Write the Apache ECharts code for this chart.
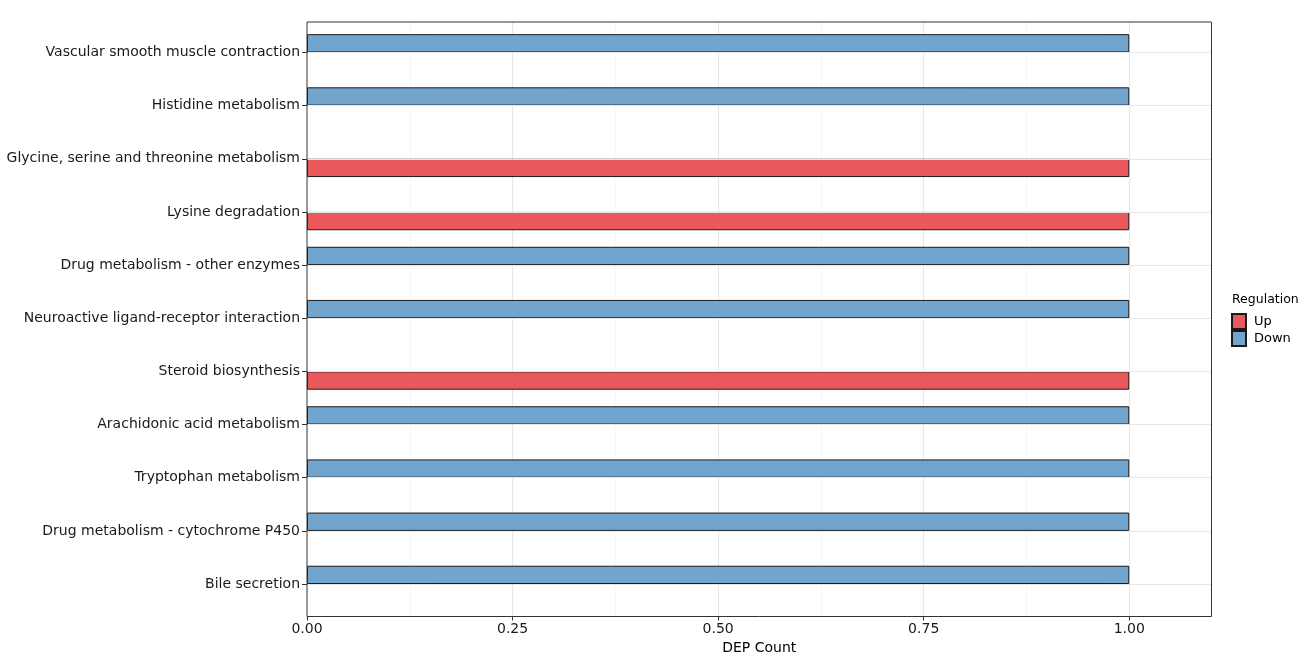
<!DOCTYPE html>
<html>
<head>
<meta charset="utf-8">
<script src="https://cdn.jsdelivr.net/npm/echarts@6/dist/echarts.min.js"></script>
<style>html,body{margin:0;padding:0;background:#fff;}#c{width:1313px;height:657px;}</style>
</head>
<body>
<div id="c"></div>
<script>
const categories = [
  'Vascular smooth muscle contraction',
  'Histidine metabolism',
  'Glycine, serine and threonine metabolism',
  'Lysine degradation',
  'Drug metabolism - other enzymes',
  'Neuroactive ligand-receptor interaction',
  'Steroid biosynthesis',
  'Arachidonic acid metabolism',
  'Tryptophan metabolism',
  'Drug metabolism - cytochrome P450',
  'Bile secretion'
];
const upValues   = [null, null, 1, 1, null, null, 1, null, null, null, null];
const downValues = [1, 1, null, null, 1, 1, null, 1, 1, 1, 1];
const xTicks = [0, 0.25, 0.5, 0.75, 1.0];

const FONT = 'DejaVu Sans';
const chart = echarts.init(document.getElementById('c'), null, {renderer: 'canvas'});
chart.setOption({
  animation: false,
  backgroundColor: '#fff',
  textStyle: {fontFamily: FONT},
  title: {
    text: 'Regulation', left: 1232, top: 293, padding: 0,
    textStyle: {fontFamily: FONT, fontSize: 12.5, fontWeight: 'normal', color: '#000'}
  },
  legend: {
    data: ['Up', 'Down'], orient: 'vertical', left: 1231, top: 313, padding: 0,
    itemWidth: 14, itemHeight: 15, itemGap: 0, icon: 'rect',
    textStyle: {fontFamily: FONT, fontSize: 13, color: '#000', padding: [0, 0, 0, 3]}
  },
  grid: [
    {left: 307, right: 101.5, top: 25.9, bottom: 46.4, containLabel: false, outerBoundsMode: 'none'},
    {left: 307, right: 101.5, top: 22, bottom: 40.5, show: false, containLabel: false, outerBoundsMode: 'none'},
    {left: 307, right: 101.5, top: 22, bottom: 40.5, show: true, borderColor: '#333', borderWidth: 1,
     backgroundColor: 'transparent', z: 10, containLabel: false, outerBoundsMode: 'none'}
  ],
  xAxis: [
    {gridIndex: 0, type: 'value', min: 0, max: 1.1, show: false},
    {gridIndex: 1, type: 'value', min: 0, max: 1.1, interval: 0.25,
     axisLine: {show: false},
     axisTick: {show: true, length: 4, lineStyle: {color: '#333'}},
     axisLabel: {showMaxLabel: false, fontFamily: FONT, fontSize: 14, color: '#1a1a1a', margin: 6,
                 formatter: v => xTicks.indexOf(v) >= 0 ? v.toFixed(2) : ''},
     splitLine: {show: true, showMinLine: false, showMaxLine: false, lineStyle: {color: '#e6e6e6', width: 1.1}},
     minorTick: {show: false, splitNumber: 2},
     minorSplitLine: {show: true, lineStyle: {color: '#f2f2f2', width: 0.6}},
     name: 'DEP Count', nameLocation: 'middle', nameGap: 21.5,
     nameTextStyle: {fontFamily: FONT, fontSize: 14, color: '#000'}
    },
    {gridIndex: 2, type: 'value', min: 0, max: 1.1, show: false}
  ],
  yAxis: [
    {gridIndex: 0, type: 'category', data: categories, inverse: true,
     axisLine: {show: false},
     axisTick: {show: true, alignWithLabel: true, length: 5, lineStyle: {color: '#333'}},
     axisLabel: {fontFamily: FONT, fontSize: 14, color: '#1a1a1a', margin: 7},
     splitLine: {show: false}
    },
    {gridIndex: 1, type: 'value', show: false},
    {gridIndex: 2, type: 'value', show: false}
  ],
  series: [
    {
      name: 'Grid', type: 'line', xAxisIndex: 0, yAxisIndex: 0, data: [], z: 1, silent: true,
      markLine: {
        silent: true, symbol: 'none', label: {show: false},
        lineStyle: {color: '#e6e6e6', width: 1.1, type: 'solid'},
        data: categories.map(c => ({yAxis: c}))
      }
    },
    {
      name: 'Down', type: 'bar', xAxisIndex: 0, yAxisIndex: 0, data: downValues,
      barWidth: 18.3, barGap: '0%', z: 3,
      itemStyle: {color: '#72A5CE', borderColor: '#1a1a1a', borderWidth: 1}
    },
    {
      name: 'Up', type: 'bar', xAxisIndex: 0, yAxisIndex: 0, data: upValues,
      barWidth: 18.3, barGap: '0%', z: 3,
      itemStyle: {color: '#E9595C', borderColor: '#1a1a1a', borderWidth: 1}
    }
  ]
});
</script>
</body>
</html>
